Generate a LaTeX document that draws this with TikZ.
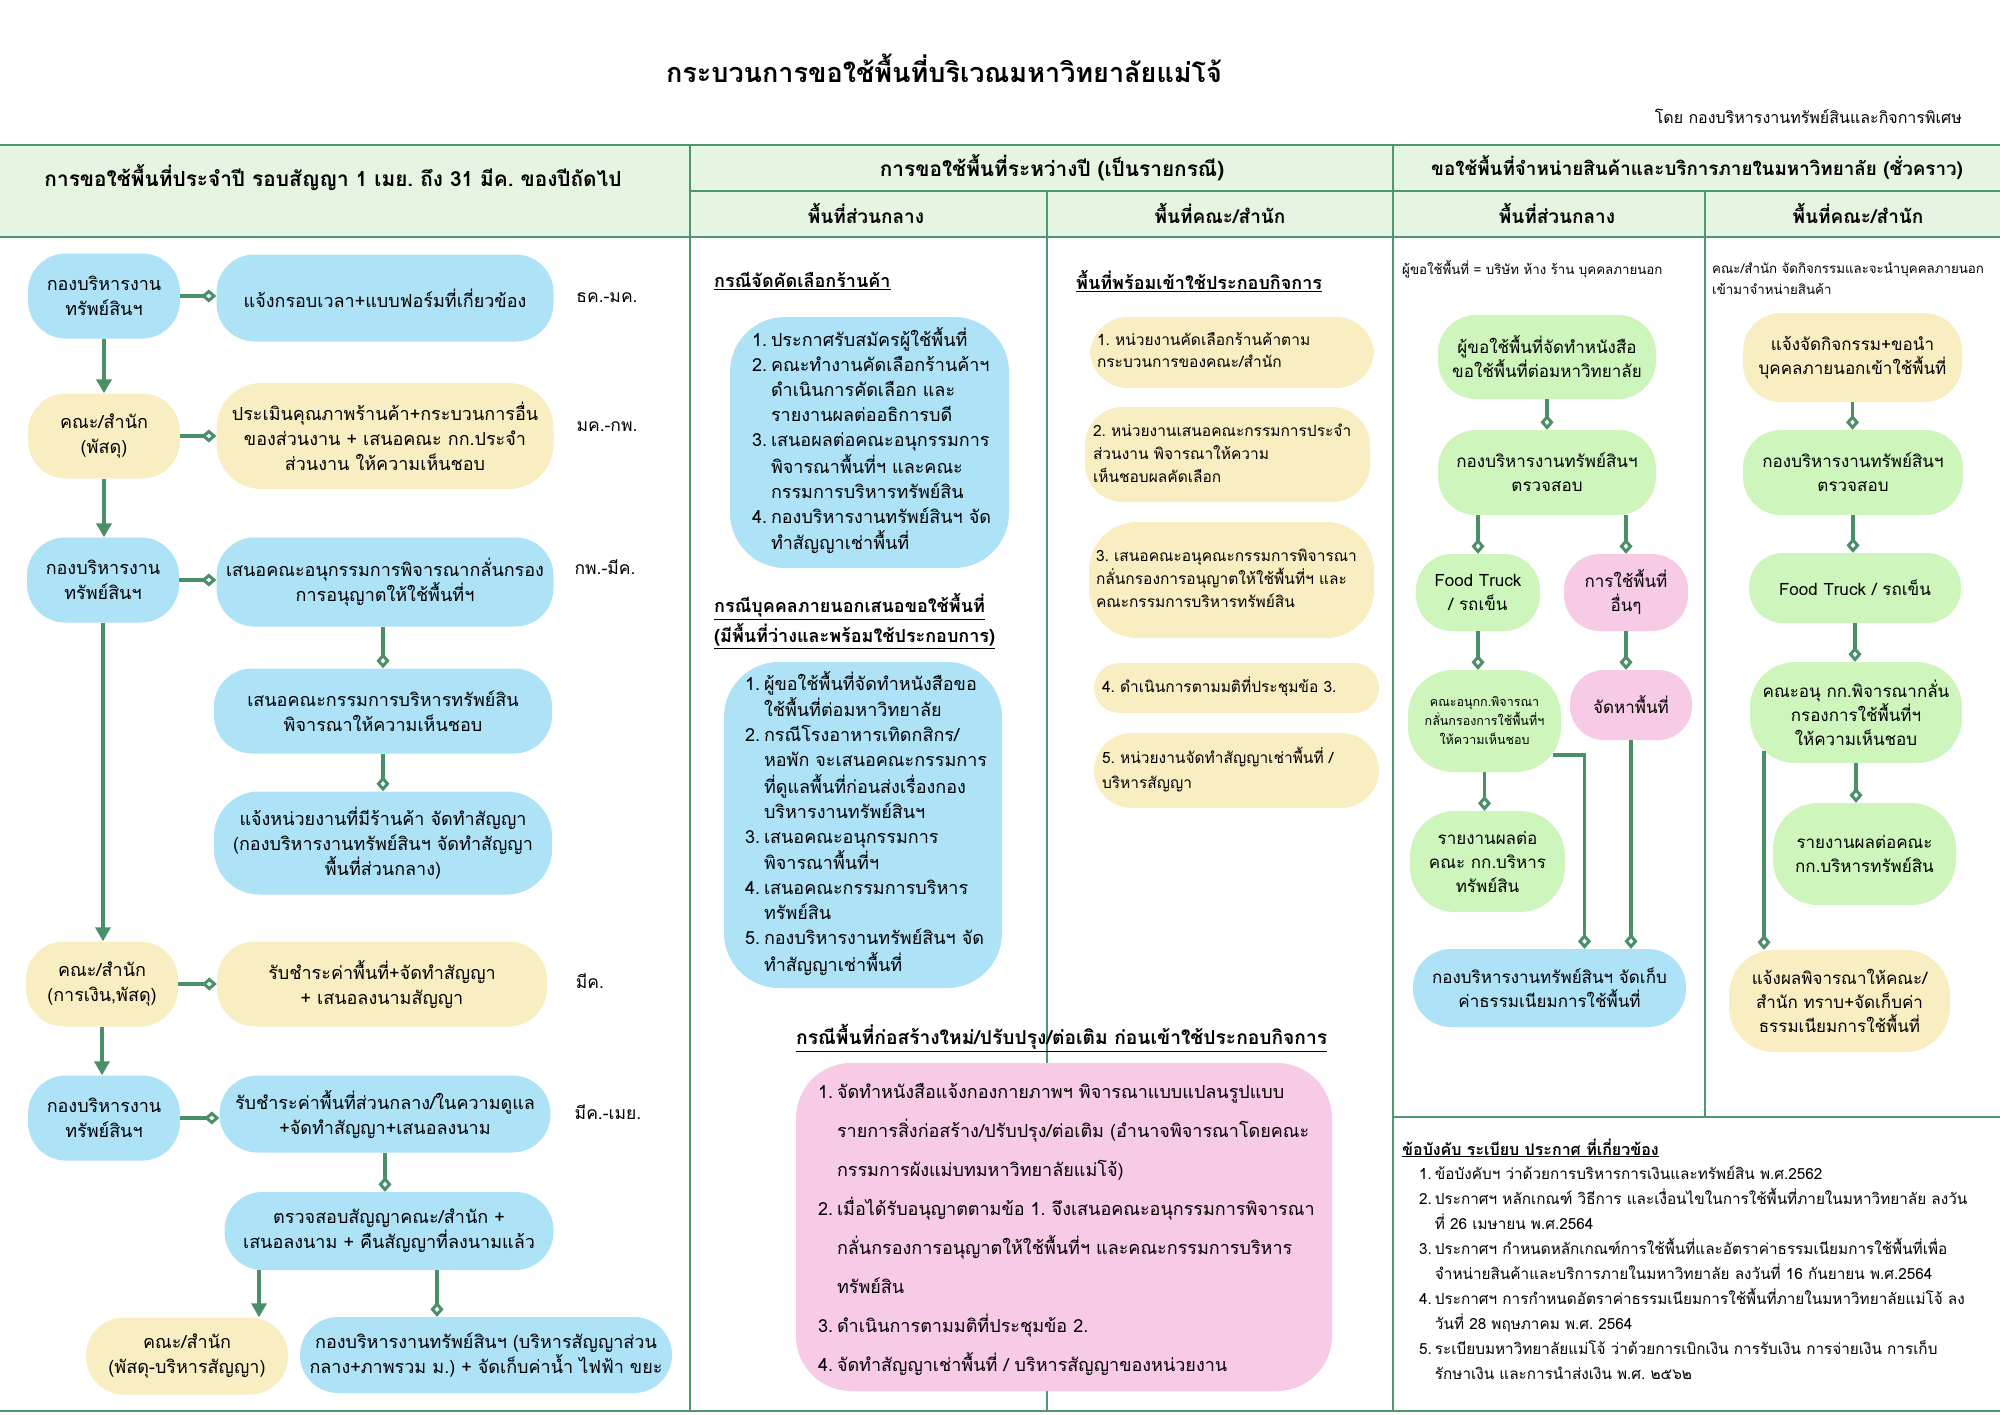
\documentclass[tikz,border=0pt]{standalone}
\usepackage{fontspec}
\setmainfont{Loma}[Script=Thai]
\usetikzlibrary{arrows.meta}
\definecolor{cblue}{HTML}{ADE2F7}
\definecolor{cyel}{HTML}{F9EEC1}
\definecolor{cgrn}{HTML}{CDF5BC}
\definecolor{cpink}{HTML}{F7CAE6}
\definecolor{chead}{HTML}{E6F5E1}
\definecolor{cline}{HTML}{4E9670}
\definecolor{ccon}{HTML}{4A8F68}
\newcommand\fsz[2]{\fontsize{#1}{#2}\selectfont}
\begin{document}
\frenchspacing
\begin{tikzpicture}[x=1pt,y=-1pt,
  box/.style={rounded corners=38pt, inner sep=0pt, align=center, text=black, font=\fsz{18}{25}},
  sz/.style 2 args={minimum width=#1, minimum height=#2},
  bl/.style={box, fill=cblue}, ye/.style={box, fill=cyel},
  gr/.style={box, fill=cgrn}, pk/.style={box, fill=cpink},
  lbox/.style={align=left, inner ysep=0pt},
  dcon/.style={draw=ccon, line width=3.5pt, -{Diamond[open,length=15pt,width=13pt,line width=3pt]}},
  acon/.style={draw=ccon, line width=3.5pt, -{Triangle[length=14pt,width=15pt]}},
  grid/.style={draw=cline, line width=2.2pt},
  hd/.style={anchor=west, inner sep=0pt, font=\bfseries\fsz{18}{30}, align=left},
  hb/.style={inner sep=0pt, font=\bfseries\fsz{19}{24}},
  mon/.style={inner sep=0pt, font=\fsz{17.5}{20}},
  note/.style={anchor=west, inner sep=0pt, font=\fsz{13.3}{21}, align=left},
]
\useasboundingbox (0,0) rectangle (2000,1414);
% ---------- table grid ----------
\fill[chead] (0,145) rectangle (2000,237);
\draw[grid] (0,145) -- (2000,145);
\draw[grid] (690,191) -- (2000,191);
\draw[grid] (0,237) -- (2000,237);
\draw[grid] (690,145) -- (690,1411);
\draw[grid] (1393,145) -- (1393,1411);
\draw[grid] (1047,191) -- (1047,1411);
\draw[grid] (1705,191) -- (1705,1117);
\draw[grid] (1393,1117) -- (2000,1117);
\draw[grid] (0,1411) -- (2000,1411);
% ---------- titles ----------
\node[inner sep=0pt, font=\bfseries\fsz{27}{32}] (title) at (944,68) {กระบวนการขอใช้พื้นที่บริเวณมหาวิทยาลัยแม่โจ้};
\node[anchor=east, inner sep=0pt, font=\fsz{16}{18}] (sub) at (1962,116) {โดย กองบริหารงานทรัพย์สินและกิจการพิเศษ};
\node[hb, font=\bfseries\fsz{20.8}{24}] (t1) at (333,178) {การขอใช้พื้นที่ประจำปี รอบสัญญา 1 เมย. ถึง 31 มีค. ของปีถัดไป};
\node[hb, font=\bfseries\fsz{20.8}{24}] (t2) at (1052,168) {การขอใช้พื้นที่ระหว่างปี (เป็นรายกรณี)};
\node[hb, font=\bfseries\fsz{18.8}{24}] (t3) at (1697,168) {ขอใช้พื้นที่จำหน่ายสินค้าและบริการภายในมหาวิทยาลัย (ชั่วคราว)};
\node[hb] (s1) at (866,213) {พื้นที่ส่วนกลาง};
\node[hb] (s2) at (1220,213) {พื้นที่คณะ/สำนัก};
\node[hb] (s3) at (1557,213) {พื้นที่ส่วนกลาง};
\node[hb] (s4) at (1858,213) {พื้นที่คณะ/สำนัก};
% ---------- column 1 ----------
\node[bl, sz={152}{85}] (a1) at (104,296) {กองบริหารงาน\\ทรัพย์สินฯ};
\node[bl, sz={337}{87}] (b1) at (385,298) {แจ้งกรอบเวลา+แบบฟอร์มที่เกี่ยวข้อง};
\node[mon] (m1) at (607,298) {ธค.-มค.};
\node[ye, sz={152}{85}] (a2) at (104,436) {คณะ/สำนัก\\(พัสดุ)};
\node[ye, sz={337}{106}, rounded corners=45pt] (b2) at (385,436) {ประเมินคุณภาพร้านค้า+กระบวนการอื่น\\ของส่วนงาน + เสนอคณะ กก.ประจำ\\ส่วนงาน ให้ความเห็นชอบ};
\node[mon] (m2) at (607,427) {มค.-กพ.};
\node[bl, sz={152}{85}] (a3) at (103,580) {กองบริหารงาน\\ทรัพย์สินฯ};
\node[bl, sz={337}{89}] (b3) at (385,582) {เสนอคณะอนุกรรมการพิจารณากลั่นกรอง\\การอนุญาตให้ใช้พื้นที่ฯ};
\node[mon] (m3) at (605,567) {กพ.-มีค.};
\node[bl, sz={338}{85}] (b4) at (383,711) {เสนอคณะกรรมการบริหารทรัพย์สิน\\พิจารณาให้ความเห็นชอบ};
\node[bl, sz={338}{103}, rounded corners=45pt] (b5) at (383,843) {แจ้งหน่วยงานที่มีร้านค้า จัดทำสัญญา\\(กองบริหารงานทรัพย์สินฯ จัดทำสัญญา\\พื้นที่ส่วนกลาง)};
\node[ye, sz={152}{85}] (a4) at (102,984) {คณะ/สำนัก\\(การเงิน,พัสดุ)};
\node[ye, sz={330}{85}] (b6) at (382,984) {รับชำระค่าพื้นที่+จัดทำสัญญา\\+ เสนอลงนามสัญญา};
\node[mon] (m4) at (590,981) {มีค.};
\node[bl, sz={152}{85}] (a5) at (104,1118) {กองบริหารงาน\\ทรัพย์สินฯ};
\node[bl, sz={331}{77}] (b7) at (385,1114) {รับชำระค่าพื้นที่ส่วนกลาง/ในความดูแล\\+จัดทำสัญญา+เสนอลงนาม};
\node[mon] (m5) at (608,1112) {มีค.-เมย.};
\node[bl, sz={329}{78}] (b8) at (389,1231) {ตรวจสอบสัญญาคณะ/สำนัก +\\เสนอลงนาม + คืนสัญญาที่ลงนามแล้ว};
\node[ye, sz={202}{77}] (c1) at (187,1356) {คณะ/สำนัก\\(พัสดุ-บริหารสัญญา)};
\node[bl, sz={372}{76}] (c2) at (486,1355) {กองบริหารงานทรัพย์สินฯ (บริหารสัญญาส่วน\\กลาง+ภาพรวม ม.) + จัดเก็บค่าน้ำ ไฟฟ้า ขยะ};
\draw[dcon] (a1.east) -- (a1.east -| b1.west);
\draw[dcon] (a2.east) -- (a2.east -| b2.west);
\draw[dcon] (a3.east) -- (a3.east -| b3.west);
\draw[dcon] (a4.east) -- (a4.east -| b6.west);
\draw[dcon] (a5.east) -- (a5.east -| b7.west);
\draw[acon] (a1.south) -- (a1.south |- a2.north);
\draw[acon] (a2.south) -- (a2.south |- a3.north);
\draw[acon] (a3.south) -- (a3.south |- a4.north);
\draw[acon] (a4.south) -- (a4.south |- a5.north);
\draw[dcon] (b3.south -| b4.north) -- (b4.north);
\draw[dcon] (b4.south) -- (b5.north);
\draw[dcon] (b7.south) -- (b7.south |- b8.north);
\draw[acon] ([xshift=-130pt]b8.south) -- ([xshift=-130pt]b8.south |- c1.north);
\draw[dcon] ([xshift=48pt]b8.south) -- ([xshift=48pt]b8.south |- c2.north);
% ---------- column 2 ----------
\node[hd] (h1) at (714,281) {\underline{กรณีจัดคัดเลือกร้านค้า}};
\node[bl, sz={279}{251}, rounded corners=55pt, lbox, inner xsep=22pt, text width=235pt] (mbox1) at (869.5,442.5) {%
\begin{tabular}{@{}r@{\hspace{4pt}}l@{}}
1.&ประกาศรับสมัครผู้ใช้พื้นที่\\
2.&คณะทำงานคัดเลือกร้านค้าฯ\\
&ดำเนินการคัดเลือก และ\\
&รายงานผลต่ออธิการบดี\\
3.&เสนอผลต่อคณะอนุกรรมการ\\
&พิจารณาพื้นที่ฯ และคณะ\\
&กรรมการบริหารทรัพย์สิน\\
4.&กองบริหารงานทรัพย์สินฯ จัด\\
&ทำสัญญาเช่าพื้นที่
\end{tabular}};
\node[hd] (h2) at (714,621) {\underline{กรณีบุคคลภายนอกเสนอขอใช้พื้นที่}\\\underline{(มีพื้นที่ว่างและพร้อมใช้ประกอบการ)}};
\node[bl, sz={278}{326}, rounded corners=55pt, lbox, inner xsep=21pt, text width=236pt] (mbox2) at (863,825) {%
\begin{tabular}{@{}r@{\hspace{4pt}}l@{}}
1.&ผู้ขอใช้พื้นที่จัดทำหนังสือขอ\\
&ใช้พื้นที่ต่อมหาวิทยาลัย\\
2.&กรณีโรงอาหารเทิดกสิกร/\\
&หอพัก จะเสนอคณะกรรมการ\\
&ที่ดูแลพื้นที่ก่อนส่งเรื่องกอง\\
&บริหารงานทรัพย์สินฯ\\
3.&เสนอคณะอนุกรรมการ\\
&พิจารณาพื้นที่ฯ\\
4.&เสนอคณะกรรมการบริหาร\\
&ทรัพย์สิน\\
5.&กองบริหารงานทรัพย์สินฯ จัด\\
&ทำสัญญาเช่าพื้นที่
\end{tabular}};
% ---------- column 3 ----------
\node[hd] (h3) at (1076,281) {\underline{พื้นที่พร้อมเข้าใช้ประกอบกิจการ}};
\node[ye, sz={284}{71}, lbox, inner xsep=7pt, text width=270pt, font=\fsz{15.5}{22}] (y1) at (1232,352.5) {%
\begin{tabular}{@{}l@{}}1. หน่วยงานคัดเลือกร้านค้าตาม\\กระบวนการของคณะ/สำนัก\end{tabular}};
\node[ye, sz={285}{95}, lbox, inner xsep=8pt, text width=269pt, font=\fsz{15.5}{23}] (y2) at (1227.5,454.5) {%
\begin{tabular}{@{}l@{}}2. หน่วยงานเสนอคณะกรรมการประจำ\\ส่วนงาน พิจารณาให้ความ\\เห็นชอบผลคัดเลือก\end{tabular}};
\node[ye, sz={285}{116}, rounded corners=48pt, lbox, inner xsep=7pt, text width=271pt, font=\fsz{15.5}{23}] (y3) at (1231.5,580) {%
\begin{tabular}{@{}l@{}}3. เสนอคณะอนุคณะกรรมการพิจารณา\\กลั่นกรองการอนุญาตให้ใช้พื้นที่ฯ และ\\คณะกรรมการบริหารทรัพย์สิน\end{tabular}};
\node[ye, sz={285}{50}, rounded corners=25pt, lbox, inner xsep=8pt, text width=269pt, font=\fsz{15.5}{23}] (y4) at (1236.5,688) {%
\begin{tabular}{@{}l@{}}4. ดำเนินการตามมติที่ประชุมข้อ 3.\end{tabular}};
\node[ye, sz={285}{75}, lbox, inner xsep=8pt, text width=269pt, font=\fsz{15.5}{25}] (y5) at (1236.5,770.5) {%
\begin{tabular}{@{}l@{}}5. หน่วยงานจัดทำสัญญาเช่าพื้นที่ /\\บริหารสัญญา\end{tabular}};
% ---------- bottom pink ----------
\node[hd, font=\bfseries\fsz{19.2}{30}] (h4) at (796,1038) {\underline{กรณีพื้นที่ก่อสร้างใหม่/ปรับปรุง/ต่อเติม ก่อนเข้าใช้ประกอบกิจการ}};
\node[pk, sz={536}{328}, rounded corners=55pt, lbox, inner xsep=22pt, text width=492pt, font=\fsz{18}{39}] (pbox) at (1064,1227) {%
\begin{tabular}{@{}r@{\hspace{4pt}}l@{}}
1.&จัดทำหนังสือแจ้งกองกายภาพฯ พิจารณาแบบแปลนรูปแบบ\\
&รายการสิ่งก่อสร้าง/ปรับปรุง/ต่อเติม (อำนาจพิจารณาโดยคณะ\\
&กรรมการผังแม่บทมหาวิทยาลัยแม่โจ้)\\
2.&เมื่อได้รับอนุญาตตามข้อ 1. จึงเสนอคณะอนุกรรมการพิจารณา\\
&กลั่นกรองการอนุญาตให้ใช้พื้นที่ฯ และคณะกรรมการบริหาร\\
&ทรัพย์สิน\\
3.&ดำเนินการตามมติที่ประชุมข้อ 2.\\
4.&จัดทำสัญญาเช่าพื้นที่ / บริหารสัญญาของหน่วยงาน
\end{tabular}};
% ---------- column 4 ----------
\node[note] (n1) at (1402,269) {ผู้ขอใช้พื้นที่ = บริษัท ห้าง ร้าน บุคคลภายนอก};
\node[gr, sz={218}{84}, font=\fsz{17}{24}] (g1) at (1547,357) {ผู้ขอใช้พื้นที่จัดทำหนังสือ\\ขอใช้พื้นที่ต่อมหาวิทยาลัย};
\node[gr, sz={218}{85}, font=\fsz{17}{24}] (g2) at (1547,472.5) {กองบริหารงานทรัพย์สินฯ\\ตรวจสอบ};
\node[gr, sz={124}{77}, rounded corners=36pt, font=\fsz{17}{24}] (g3) at (1478,592.5) {Food Truck\\/ รถเข็น};
\node[pk, sz={124}{77}, rounded corners=36pt, font=\fsz{17}{24}] (p1) at (1626,592.5) {การใช้พื้นที่\\อื่นๆ};
\node[gr, sz={153}{102}, rounded corners=45pt, font=\fsz{12.5}{19}] (g4) at (1484.5,721) {คณะอนุกก.พิจารณา\\กลั่นกรองการใช้พื้นที่ฯ\\ให้ความเห็นชอบ};
\node[pk, sz={122}{70}, rounded corners=34pt, font=\fsz{17}{24}] (p2) at (1631,705) {จัดหาพื้นที่};
\node[gr, sz={155}{101}, rounded corners=45pt, font=\fsz{17}{24}] (g5) at (1487.5,861.5) {รายงานผลต่อ\\คณะ กก.บริหาร\\ทรัพย์สิน};
\node[bl, sz={273}{78}, font=\fsz{17}{24}] (gb) at (1549.5,988) {กองบริหารงานทรัพย์สินฯ จัดเก็บ\\ค่าธรรมเนียมการใช้พื้นที่};
\draw[dcon] (g1.south) -- (g2.north);
\draw[dcon] (g2.south -| g3.north) -- (g3.north);
\draw[dcon] (g2.south -| p1.north) -- (p1.north);
\draw[dcon] (g3.south) -- (g3.south |- g4.north);
\draw[dcon] (p1.south) -- (p1.south |- p2.north);
\draw[dcon] (g4.south) -- (g4.south |- g5.north);
\draw[dcon] ([xshift=-8pt,yshift=-34pt]g4.east) -| ([xshift=35pt]gb.north);
\draw[dcon] (p2.south) -- (p2.south |- gb.north);
% ---------- column 5 ----------
\node[note] (n2) at (1712,278.5) {คณะ/สำนัก จัดกิจกรรมและจะนำบุคคลภายนอก\\เข้ามาจำหน่ายสินค้า};
\node[ye, sz={219}{89}, font=\fsz{17}{24}] (y6) at (1852.5,357.5) {แจ้งจัดกิจกรรม+ขอนำ\\บุคคลภายนอกเข้าใช้พื้นที่};
\node[gr, sz={220}{85}, font=\fsz{17}{24}] (g6) at (1853,472.5) {กองบริหารงานทรัพย์สินฯ\\ตรวจสอบ};
\node[gr, sz={212}{70}, rounded corners=34pt, font=\fsz{17}{24}] (g7) at (1855,588) {Food Truck / รถเข็น};
\node[gr, sz={212}{101}, rounded corners=45pt, font=\fsz{17}{24}] (g8) at (1856,712.5) {คณะอนุ กก.พิจารณากลั่น\\กรองการใช้พื้นที่ฯ\\ให้ความเห็นชอบ};
\node[gr, sz={183}{102}, rounded corners=45pt, font=\fsz{17}{24}] (g9) at (1864.5,854) {รายงานผลต่อคณะ\\กก.บริหารทรัพย์สิน};
\node[ye, sz={221}{102}, rounded corners=45pt, font=\fsz{17}{24}] (y7) at (1839.5,1001) {แจ้งผลพิจารณาให้คณะ/\\สำนัก ทราบ+จัดเก็บค่า\\ธรรมเนียมการใช้พื้นที่};
\draw[dcon] (y6.south) -- (y6.south |- g6.north);
\draw[dcon] (g6.south) -- (g6.south |- g7.north);
\draw[dcon] (g7.south) -- (g7.south |- g8.north);
\draw[dcon] (g8.south) -- (g8.south |- g9.north);
\draw[dcon] ([xshift=-92pt,yshift=12pt]g8.south) -- ([xshift=-92pt]g8.south |- y7.north);
% ---------- regulations ----------
\node[hd, font=\bfseries\fsz{16}{20}] (h5) at (1402,1148) {\underline{ข้อบังคับ ระเบียบ ประกาศ ที่เกี่ยวข้อง}};
\node[anchor=west, inner sep=0pt, align=left, font=\fsz{15.3}{25}] (reg) at (1419,1274) {%
\begin{tabular}{@{}r@{\hspace{3pt}}l@{}}
1.&ข้อบังคับฯ ว่าด้วยการบริหารการเงินและทรัพย์สิน พ.ศ.2562\\
2.&ประกาศฯ หลักเกณฑ์ วิธีการ และเงื่อนไขในการใช้พื้นที่ภายในมหาวิทยาลัย ลงวัน\\
&ที่ 26 เมษายน พ.ศ.2564\\
3.&ประกาศฯ กำหนดหลักเกณฑ์การใช้พื้นที่และอัตราค่าธรรมเนียมการใช้พื้นที่เพื่อ\\
&จำหน่ายสินค้าและบริการภายในมหาวิทยาลัย ลงวันที่ 16 กันยายน พ.ศ.2564\\
4.&ประกาศฯ การกำหนดอัตราค่าธรรมเนียมการใช้พื้นที่ภายในมหาวิทยาลัยแม่โจ้ ลง\\
&วันที่ 28 พฤษภาคม พ.ศ. 2564\\
5.&ระเบียบมหาวิทยาลัยแม่โจ้ ว่าด้วยการเบิกเงิน การรับเงิน การจ่ายเงิน การเก็บ\\
&รักษาเงิน และการนำส่งเงิน พ.ศ. ๒๕๖๒
\end{tabular}};
\end{tikzpicture}
\end{document}
